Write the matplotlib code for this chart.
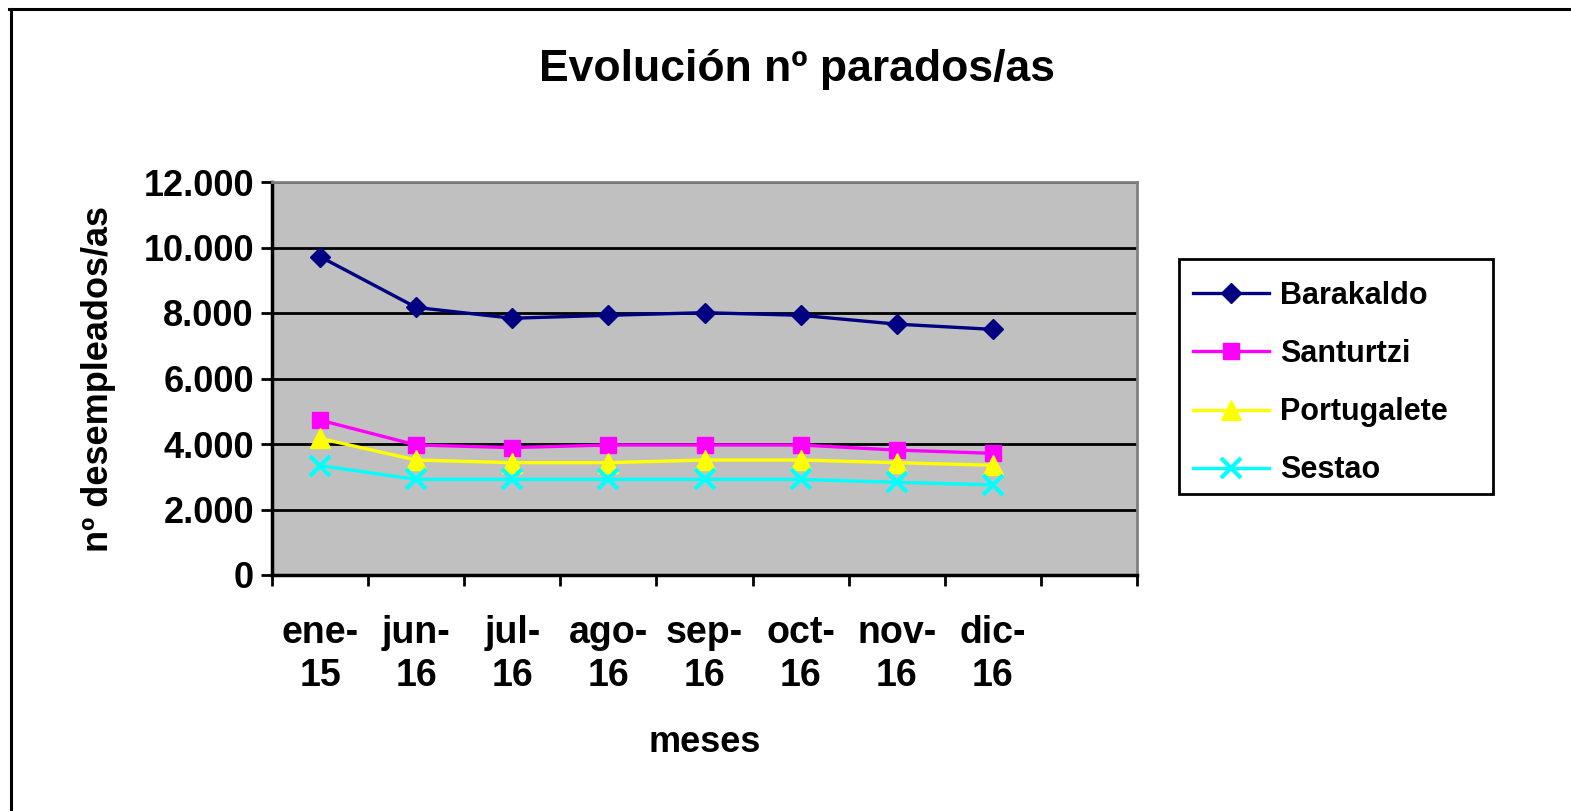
import matplotlib.pyplot as plt
import numpy as np
from matplotlib.ticker import FuncFormatter, FixedLocator
from matplotlib.lines import Line2D
from matplotlib.patches import Rectangle

plt.rcParams['font.family'] = ['Liberation Sans', 'DejaVu Sans']
plt.rcParams['font.weight'] = 'bold'

meses = ["ene-\n15", "jun-\n16", "jul-\n16", "ago-\n16", "sep-\n16", "oct-\n16", "nov-\n16", "dic-\n16"]
barakaldo = [9720, 8170, 7840, 7930, 8010, 7930, 7660, 7500]
santurtzi = [4730, 3970, 3890, 3970, 3970, 3970, 3815, 3715]
portugalete = [4170, 3510, 3430, 3430, 3510, 3510, 3430, 3350]
sestao = [3340, 2920, 2920, 2920, 2920, 2920, 2830, 2750]

W, H = 1571, 811
fig = plt.figure(figsize=(W / 100, H / 100), dpi=100)
fig.patch.set_facecolor('white')

# axes box in pixels: x 272..1137, y 182..575
ax = fig.add_axes([272 / W, 1 - 575 / H, (1137 - 272) / W, (575 - 182) / H])
ax.set_facecolor('#C0C0C0')

x = np.arange(len(meses)) + 0.5
ax.plot(x, barakaldo, color='#000080', lw=2.4, marker='D', ms=10.5, mec='#000080', label='Barakaldo', zorder=3)
ax.plot(x, santurtzi, color='#FF00FF', lw=2.4, marker='s', ms=12, mec='#FF00FF', label='Santurtzi', zorder=3)
ax.plot(x, portugalete, color='#FFFF00', lw=2.4, marker='^', ms=14, mec='#FFFF00', label='Portugalete', zorder=3)
ax.plot(x, sestao, color='#00FFFF', lw=2.4, marker='x', ms=14, mew=3, label='Sestao', zorder=3)

ax.set_xlim(0, 9)
ax.set_ylim(0, 12000)
ax.set_yticks(np.arange(0, 12001, 2000))
ax.yaxis.set_major_formatter(FuncFormatter(lambda v, p: f"{int(v):,}".replace(",", ".")))
ax.yaxis.grid(True, color='black', lw=2)
ax.set_axisbelow(True)

ax.xaxis.set_major_locator(FixedLocator(np.arange(0, 10)))
ax.xaxis.set_major_formatter(FuncFormatter(lambda v, p: ""))
ax.xaxis.set_minor_locator(FixedLocator(x))
ax.set_xticklabels(meses, minor=True)
ax.tick_params(axis='x', which='minor', length=0, pad=29, labelsize=27)
ax.tick_params(axis='x', which='major', length=8, width=2, direction='out')
ax.tick_params(axis='y', length=8, width=2, direction='out', pad=5, labelsize=26)
for lbl in ax.get_xticklabels(minor=True):
    lbl.set_linespacing(1.25)

for s in ['left', 'bottom']:
    ax.spines[s].set_linewidth(2.5)
    ax.spines[s].set_color('black')
for s in ['top', 'right']:
    ax.spines[s].set_linewidth(2)
    ax.spines[s].set_color('#808080')

ax.set_xlabel('meses', fontsize=26, fontweight='bold', va='center')
ax.xaxis.set_label_coords(0.5, (575 - 743) / 393)
ax.set_ylabel('nº desempleados/as', fontsize=26, fontweight='bold', va='center')
ax.yaxis.set_label_coords((99 - 272) / 865, 0.5)

fig.text(797 / W, 1 - 70 / H, 'Evolución nº parados/as', fontsize=32, fontweight='bold',
         ha='center', va='center')

# legend frame drawn separately (below the axes layer), entries placed inside it
fig.add_artist(Rectangle((1179 / W, 1 - 494 / H), (1493 - 1179) / W, (494 - 259) / H,
                         transform=fig.transFigure, facecolor='white', edgecolor='black',
                         lw=2, zorder=-1))
leg = ax.legend(loc='upper left', bbox_to_anchor=(1193 / W, 1 - 281 / H),
                bbox_transform=fig.transFigure, fontsize=22, frameon=False,
                handlelength=2.5, handletextpad=0.35, labelspacing=0.92, borderpad=0,
                borderaxespad=0)

# outer border (left and top only visible)
fig.add_artist(Line2D([10.5 / W, 10.5 / W], [0, 1 - 9 / H], transform=fig.transFigure, color='black', lw=2.2))
fig.add_artist(Line2D([9 / W, 1], [1 - 9 / H, 1 - 9 / H], transform=fig.transFigure, color='black', lw=2.2))

fig.savefig('out.png', dpi=100, facecolor='white')
